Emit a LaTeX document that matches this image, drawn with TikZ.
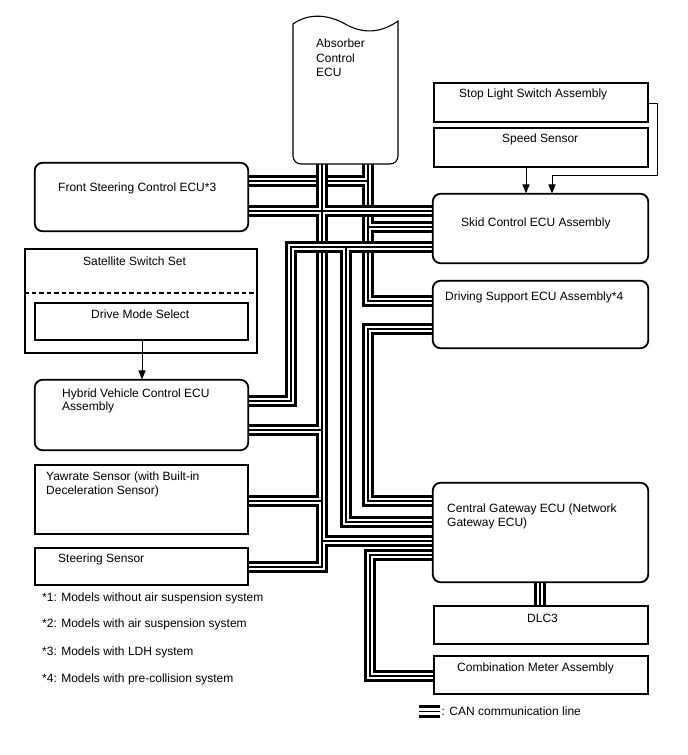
\documentclass[tikz,border=0pt]{standalone}
\usepackage{fontspec}
\setmainfont{Liberation Sans}
\usetikzlibrary{arrows.meta,calc}
\tikzset{
  busA/.style={line width=12.5pt, black},
  busB/.style={line width=6.5pt, white},
  busC/.style={line width=1.3pt, black},
  sqbox/.style={draw, line width=1.1pt, fill=white, inner sep=0pt, rectangle},
  rdbox/.style={sqbox, rounded corners=8pt},
  txt/.style={anchor=base west, inner sep=0pt, font=\fontsize{12}{14}\selectfont},
  conn/.style={line width=1pt, -{Triangle[length=9pt,width=7pt]}},
}
\newcommand\canbus[1]{\draw[busA] #1; \draw[busB] #1; \draw[busC] #1;}
\begin{document}
\begin{tikzpicture}[x=1pt,y=-1pt]
\useasboundingbox (0,0) rectangle (688,755);
\fill[white] (0,0) rectangle (688,755);

% ---- boxes (nodes) ----
\node[sqbox, minimum width=214pt, minimum height=39pt] (stop)  at (541,102.5) {};
\node[sqbox, minimum width=214pt, minimum height=39pt] (speed) at (541,147.5) {};
\node[rdbox, minimum width=215pt, minimum height=69pt] (skid)  at (540.5,228.5) {};
\node[rdbox, minimum width=215pt, minimum height=67pt] (drv)   at (540.5,314.5) {};
\node[rdbox, minimum width=215pt, minimum height=99pt] (cgw)   at (540.5,532.5) {};
\node[sqbox, minimum width=214pt, minimum height=38pt] (dlc)   at (541,625) {};
\node[sqbox, minimum width=214pt, minimum height=38pt] (combi) at (541,675) {};
\node[rdbox, minimum width=213pt, minimum height=68pt] (fsc)   at (141.5,197) {};
\node[sqbox, minimum width=232pt, minimum height=104pt] (sat)  at (141,301) {};
\node[sqbox, minimum width=213pt, minimum height=37pt] (dms)   at (141.5,321.5) {};
\node[rdbox, minimum width=213pt, minimum height=70pt] (hv)    at (141.5,415) {};
\node[sqbox, minimum width=213pt, minimum height=69pt] (yaw)   at (141.5,499.5) {};
\node[sqbox, minimum width=213pt, minimum height=37pt] (ss)    at (141.5,566.5) {};
\node[inner sep=0pt, minimum width=105pt, minimum height=146pt] (abs) at (345.5,91) {};

% ---- bus coordinates ----
\coordinate (q1) at (368,181);
\coordinate (q2) at (368,227);
\coordinate (q3) at (368,301);
\coordinate (p1) at (322,211);
\coordinate (p2) at (322,430);
\coordinate (p3) at (322,501);
\coordinate (p4) at (322,541);
\coordinate (p5) at (322,567);
\coordinate (b1) at (291,247);
\coordinate (b2) at (346,247);
\coordinate (b3) at (291,401);
\coordinate (b4) at (346,522);
\coordinate (r1) at (368,329);
\coordinate (r2) at (368,501);
\coordinate (c1) at (370,555);
\coordinate (c2) at (370,676);
\coordinate (d1) at (540,582);
\coordinate (lg1) at (419,711.5);
\coordinate (lg2) at (440,711.5);

% ---- CAN buses ----
\canbus{(q1 |- abs.south) -- (q3) -- (drv.west |- q3) (fsc.east |- q1) -- (q1) (q2) -- (skid.west |- q2)}
\canbus{(p1 |- abs.south) -- (p5) -- (ss.east |- p5) (fsc.east |- p1) -- (skid.west |- p1) (hv.east |- p2) -- (p2) (yaw.east |- p3) -- (p3) (p4) -- (cgw.west |- p4)}
\canbus{(skid.west |- b1) -- (b1) -- (b3) -- (hv.east |- b3) (b2) -- (b4) -- (cgw.west |- b4)}
\canbus{(drv.west |- r1) -- (r1) -- (r2) -- (cgw.west |- r2)}
\canbus{(cgw.west |- c1) -- (c1) -- (c2) -- (combi.west |- c2)}
\canbus{(d1) -- (dlc.north -| d1)}
\canbus{(lg1) -- (lg2)}

% ---- redraw boxes on top ----
\foreach \n in {stop,speed,dlc,combi,sat,dms,yaw,ss}{
  \draw[line width=1.1pt] (\n.north west) rectangle (\n.south east);}
\foreach \n in {skid,drv,cgw,fsc,hv}{
  \draw[line width=1.1pt, rounded corners=8pt] (\n.north west) rectangle (\n.south east);}
\draw[line width=1.1pt, dash pattern=on 4.5pt off 3pt] (sat.west |- 0,293) -- (sat.east |- 0,293);

% Absorber outline (wavy top)
\draw[line width=1.1pt, fill=white] (293,24) .. controls (310,12) and (330,15) .. (347,25)
  .. controls (362,33) and (380,34) .. (398,21) -- (398,40)
  [rounded corners=8pt] -- (398,164) -- (293,164) -- (293,40) [sharp corners] -- cycle;

% ---- arrows ----
\draw[conn] (dms.south -| 142,0) -- (hv.north -| 142,0);
\draw[conn] (speed.south -| 526,0) -- (skid.north -| 526,0);
\coordinate (sl1) at (657,103);
\coordinate (sl2) at (657,175);
\coordinate (sl3) at (552,175);
\draw[conn] (stop.east |- sl1) -- (sl1) -- (sl2) -- (sl3) -- (skid.north -| sl3);

% ---- texts ----
\node[txt] (abs1) at (316,47.5) {Absorber};
\node[txt] (abs2) at (316,62) {Control};
\node[txt] (abs3) at (316,76.5) {ECU};
\node[txt] (stoptxt) at (459,97) {Stop Light Switch Assembly};
\node[txt] (speedtxt) at (502,142.5) {Speed Sensor};
\node[txt] (skidtxt) at (461,226) {Skid Control ECU Assembly};
\node[txt] (fsctxt) at (58,191) {Front Steering Control ECU*3};
\node[txt] (sattxt) at (83,265) {Satellite Switch Set};
\node[txt] (dmstxt) at (91,318.5) {Drive Mode Select};
\node[txt] (hv1) at (62,397) {Hybrid Vehicle Control ECU};
\node[txt] (hv2) at (62,410) {Assembly};
\node[txt] (yaw1) at (46,480) {Yawrate Sensor (with Built-in};
\node[txt] (yaw2) at (46,494) {Deceleration Sensor)};
\node[txt] (sstxt) at (58,562) {Steering Sensor};
\node[txt] (drvtxt) at (445,300) {Driving Support ECU Assembly*4};
\node[txt] (cgw1) at (447,512) {Central Gateway ECU (Network};
\node[txt] (cgw2) at (447,526) {Gateway ECU)};
\node[txt] (dlctxt) at (527,622) {DLC3};
\node[txt] (combitxt) at (457,671) {Combination Meter Assembly};
\node[txt] (n1) at (42,601) {*1: Models without air suspension system};
\node[txt] (n2) at (42,627) {*2: Models with air suspension system};
\node[txt] (n3) at (42,655) {*3: Models with LDH system};
\node[txt] (n4) at (42,682) {*4: Models with pre-collision system};
\node[txt] (lgtxt) at (441.5,715) {: CAN communication line};
\end{tikzpicture}
\end{document}
